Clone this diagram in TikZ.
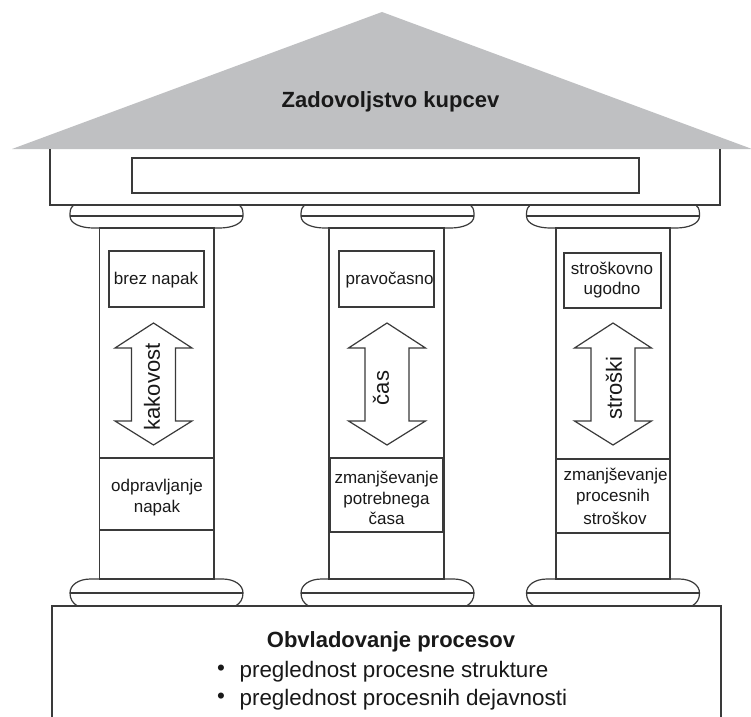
\documentclass[tikz,border=0pt]{standalone}
\usepackage{fontspec}
\setmainfont{Liberation Sans}
\definecolor{roofgray}{RGB}{191,192,194}
\definecolor{linec}{RGB}{58,58,58}
\definecolor{txt}{RGB}{25,25,25}
\newcommand\capTopAt[1]{%
  \begin{scope}[xshift=#1bp]
    \draw (-83.5,206) .. controls (-86.5,208) and (-86.5,212) .. (-86.5,216)
      .. controls (-86.5,224) and (-75,228) .. (-63,228) -- (63,228)
      .. controls (75,228) and (86.5,224) .. (86.5,216)
      .. controls (86.5,212) and (86.5,208) .. (83.5,206);
    \draw (-86.5,216) -- (86.5,216);
  \end{scope}}
\newcommand\capBaseAt[1]{%
  \begin{scope}[xshift=#1bp]
    \draw (-79,606) .. controls (-84,603) and (-86.5,599) .. (-86.5,593)
      .. controls (-86.5,585) and (-78,579) .. (-66,579) -- (66,579)
      .. controls (78,579) and (86.5,585) .. (86.5,593)
      .. controls (86.5,599) and (84,603) .. (79,606);
    \draw (-86.5,593) -- (86.5,593);
  \end{scope}}
\newcommand\dblArrowAt[1]{%
  \begin{scope}[xshift=#1bp]
    \draw[fill=white] (0,323) -- (38.5,348) -- (22,348) -- (22,421) -- (38.5,421)
      -- (0,445) -- (-38.5,421) -- (-22,421) -- (-22,348) -- (-38.5,348) -- cycle;
  \end{scope}}
\begin{document}
\begin{tikzpicture}[x=1bp,y=-1bp,line width=1.2bp,color=linec,
  lbl/.style={text=txt,inner sep=0pt,font=\fontsize{17bp}{20.5bp}\selectfont,align=center},
  biglbl/.style={text=txt,inner sep=0pt,font=\fontsize{22bp}{26bp}\selectfont},
  bullbl/.style={text=txt,inner sep=0pt,font=\fontsize{22.4bp}{26bp}\selectfont},
  ttl/.style={text=txt,inner sep=0pt,font=\bfseries\fontsize{22bp}{26bp}\selectfont}]
\useasboundingbox (0,0) rectangle (751,717);
\fill[white] (0,0) rectangle (751,717);
% roof
\fill[roofgray] (12,149) -- (382,12) -- (752,149) -- cycle;
\node[ttl] (roof) at (390.5,102) {Zadovoljstvo kupcev};
% entablature
\draw (50,149) -- (50,205) -- (720,205) -- (720,149);
\draw (132,158) rectangle (639,193);
% capitals
\capTopAt{156.5}
\capTopAt{387.5}
\capTopAt{613}
% shafts
\draw (99.5,228) rectangle (214,579);
\draw (329,228) rectangle (444,579);
\draw (556,228) rectangle (670,579);
% bases
\capBaseAt{156.5}
\capBaseAt{387.5}
\capBaseAt{613}
% foundation
\draw (52,717) -- (52,606) -- (721,606) -- (721,717);
% left pillar
\node[lbl] (t1) at (156,280) {brez napak};
\draw (109,251) rectangle (204,307);
\dblArrowAt{153.5}
\node[biglbl,rotate=90] (a1) at (152,387) {kakovost};
\draw (99.5,458) rectangle (214,530);
\node[lbl] (b1) at (157,497.5) {odpravljanje\\napak};
% middle pillar
\node[lbl,anchor=west] (t2) at (345,280) {pravočasno};
\draw (339,251) rectangle (434,307);
\dblArrowAt{387}
\node[biglbl,rotate=90] (a2) at (381,388) {čas};
\node[lbl] (b2) at (386.5,498) {zmanjševanje\\potrebnega\\časa};
\draw (330,458) rectangle (443,532);
% right pillar
\node[lbl] (t3) at (612,280) {stroškovno\\ugodno};
\draw (564,253) rectangle (661,308);
\dblArrowAt{613}
\node[biglbl,rotate=90] (a3) at (614,388) {stroški};
\node[lbl,anchor=west] (b3a) at (563,476) {zmanjševanje};
\node[lbl] (b3b) at (613,497) {procesnih};
\node[lbl] (b3c) at (615,518) {stroškov};
\draw (556,459) rectangle (670,533);
% foundation text
\node[ttl] (base) at (391,642) {Obvladovanje procesov};
\node[bullbl] (bul1) at (221,670) {•};
\node[bullbl,anchor=west] (l1) at (239,672) {preglednost procesne strukture};
\node[bullbl] (bul2) at (221,698) {•};
\node[bullbl,anchor=west] (l2) at (239,700) {preglednost procesnih dejavnosti};
\end{tikzpicture}
\end{document}
